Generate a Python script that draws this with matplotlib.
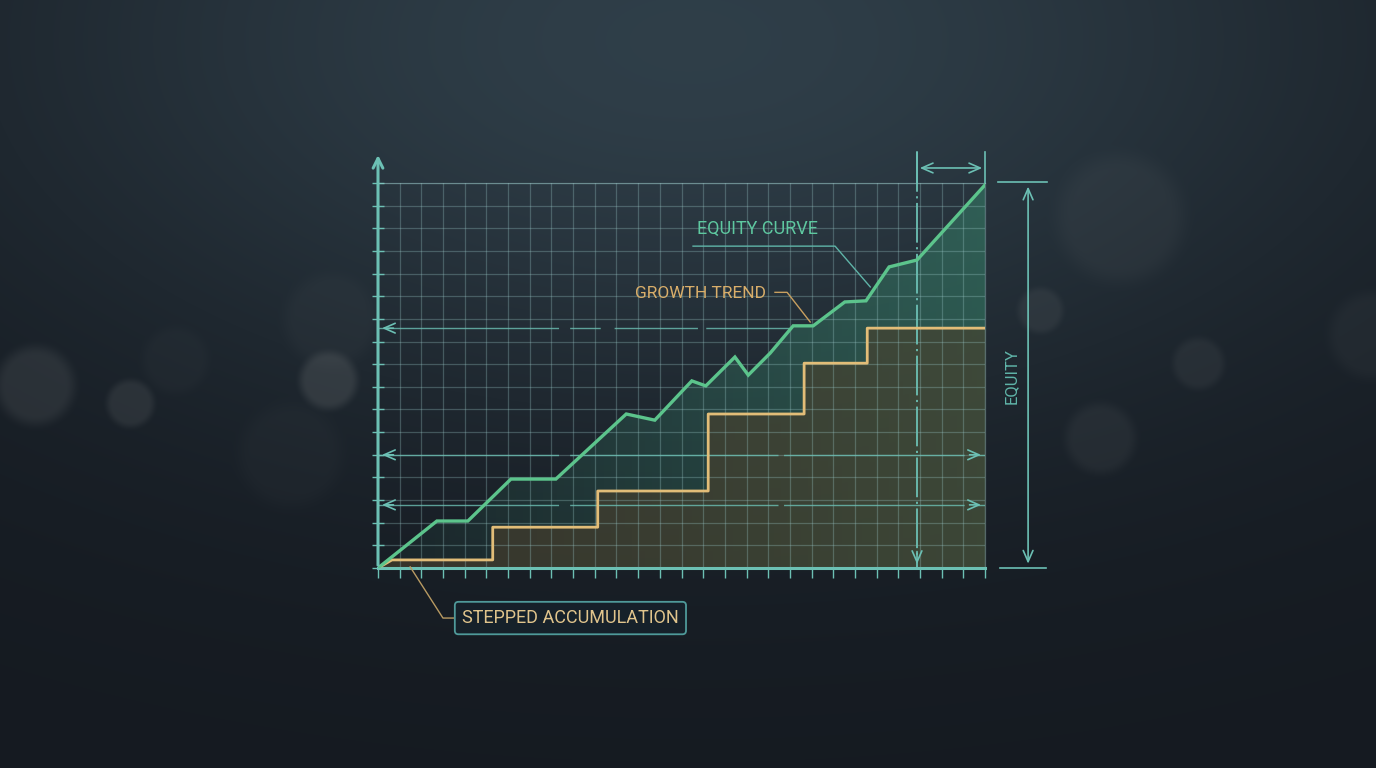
import numpy as np
import matplotlib
matplotlib.use("Agg")
import matplotlib.pyplot as plt
from matplotlib.colors import LinearSegmentedColormap

# --- dati (coordinate in % dell'area del grafico) ---
equity_x = [0, 9.7, 14.8, 21.9, 29.3, 40.9, 45.6, 51.7, 54.0, 58.8, 61.0, 64.6,
            68.4, 71.7, 76.9, 80.4, 84.2, 88.8, 100]
equity_y = [0, 12.2, 12.2, 23.1, 23.1, 40.0, 38.4, 48.6, 47.3, 54.8, 50.1, 55.8,
            62.9, 62.9, 69.1, 69.4, 78.2, 80.0, 99.5]

step_x = [0, 2.3, 18.9, 18.9, 36.2, 36.2, 54.4, 54.4, 70.2, 70.2, 80.6, 80.6, 100]
step_y = [0, 2.1, 2.1, 10.6, 10.6, 20.0, 20.0, 40.0, 40.0, 53.2, 53.2, 62.3, 62.3]

marker_x = 88.8          # linea tratteggiata verticale
guide_levels = [62.3, 29.4, 16.4]

TEAL = "#6cc0b4"
GREEN = "#5cc48c"
GOLD = "#e2bd78"
W, H = 1376, 768

fig = plt.figure(figsize=(W / 100, H / 100), dpi=100)

# --- sfondo sfumato con bokeh ---
bg = fig.add_axes([0, 0, 1, 1])
yy, xx = np.mgrid[0:H, 0:W]
dark = np.array([0.082, 0.102, 0.128])
light = np.array([0.185, 0.245, 0.285])
glow = np.exp(-(((xx - 688) / 720.0) ** 2 + ((yy - 40) / 380.0) ** 2))
img = dark + (light - dark) * glow[..., None]
bokeh = [(35, 385, 38, 0.22), (130, 403, 23, 0.22), (328, 380, 28, 0.30),
         (330, 320, 45, 0.08), (175, 360, 32, 0.06), (290, 455, 50, 0.06),
         (1120, 218, 62, 0.12), (1040, 310, 22, 0.18), (1198, 363, 25, 0.15),
         (1100, 438, 34, 0.14), (1372, 335, 42, 0.10)]
bcol = np.array([0.40, 0.42, 0.43])
for cx, cy, r, a in bokeh:
    d = np.sqrt((xx - cx) ** 2 + (yy - cy) ** 2)
    m = np.clip((r - d) / (r * 0.45) + 0.5, 0, 1)
    m = m * m * (3 - 2 * m) * a
    img = img * (1 - m[..., None]) + bcol * m[..., None]
bg.imshow(np.clip(img, 0, 1), extent=[0, W, H, 0], aspect="auto")
bg.set_axis_off()

# --- area del grafico ---
ax = fig.add_axes([378 / W, 1 - 568 / H, 607 / W, 385 / H])
ax.set_facecolor("none")
ax.set_xlim(0, 100)
ax.set_ylim(0, 100)

ax.set_xticks(np.linspace(0, 100, 29))
ax.set_yticks(np.linspace(0, 100, 18))
ax.set_xticklabels([])
ax.set_yticklabels([])
ax.grid(color="#9ccaca", alpha=0.30, linewidth=0.9)
ax.tick_params(axis="y", direction="inout", length=8, width=1.0, color=TEAL)
ax.tick_params(axis="x", direction="out", length=7, width=1.0, color=TEAL)
for s in ["top", "right"]:
    ax.spines[s].set_color("#9ccaca")
    ax.spines[s].set_alpha(0.4)
    ax.spines[s].set_linewidth(0.9)
ax.spines["left"].set_visible(False)
ax.spines["bottom"].set_color(TEAL)
ax.spines["bottom"].set_linewidth(2.2)

# riempimenti
poly = ax.fill_between(equity_x, 0, equity_y, color="none", linewidth=0)
grad = np.linspace(0.0, 1.0, 256)[None, :]
gcmap = LinearSegmentedColormap.from_list(
    "g", [(0.24, 0.60, 0.47, 0.05), (0.24, 0.62, 0.48, 0.40)])
im = ax.imshow(grad, extent=[0, 100, 0, 100], aspect="auto", cmap=gcmap,
               zorder=1, interpolation="bicubic")
im.set_clip_path(poly.get_paths()[0], transform=ax.transData)
ax.fill_between(step_x, 0, step_y, color="#4a3f2c", alpha=0.6, linewidth=0, zorder=1.5)

ax.plot(equity_x, equity_y, color=GREEN, linewidth=2.4, zorder=4,
        solid_joinstyle="miter")
ax.plot(step_x, step_y, color=GOLD, linewidth=2.0, zorder=3.5)

# asse verticale con freccia
ax.annotate("", xy=(0, 108), xytext=(0, 0),
            arrowprops=dict(arrowstyle="->,head_length=0.7,head_width=0.35",
                            color=TEAL, lw=2.2), annotation_clip=False, zorder=5)

# linee guida orizzontali
head = dict(arrowstyle="->,head_length=0.8,head_width=0.35", color=TEAL, lw=1.2)
ax.plot([0, 68], [guide_levels[0]] * 2, color=TEAL, lw=1.0, alpha=0.8,
        dashes=(130, 8, 22, 10, 60, 6), zorder=2)
ax.annotate("", xy=(0.2, guide_levels[0]), xytext=(3, guide_levels[0]),
            arrowprops=head, zorder=2)
for lev in guide_levels[1:]:
    ax.plot([0, 100], [lev] * 2, color=TEAL, lw=1.0, alpha=0.8,
            dashes=(130, 8, 150, 4), zorder=2)
    ax.annotate("", xy=(0.2, lev), xytext=(3, lev), arrowprops=head, zorder=2)
    ax.annotate("", xy=(99.8, lev), xytext=(97, lev), arrowprops=head, zorder=2)

# linea verticale tratteggiata
ax.plot([marker_x, marker_x], [108, 0], color=TEAL, lw=1.3,
        linestyle=(0, (22, 2.5, 1.2, 2.5)), clip_on=False, zorder=3)
ax.annotate("", xy=(marker_x, 0.3), xytext=(marker_x, 5), arrowprops=head, zorder=3)

# quota in alto
for xv in [marker_x, 100]:
    ax.plot([xv, xv], [100, 108], color=TEAL, lw=1.2, clip_on=False)
ax.annotate("", xy=(marker_x, 103.9), xytext=(100, 103.9),
            arrowprops=dict(arrowstyle="<->,head_length=0.8,head_width=0.35",
                            color=TEAL, lw=1.2), annotation_clip=False)

# quota a destra
ax.plot([102.1, 110.2], [100.2, 100.2], color=TEAL, lw=1.2, clip_on=False)
ax.plot([102.5, 110.0], [0, 0], color=TEAL, lw=1.2, clip_on=False)
ax.annotate("", xy=(107.1, 99.8), xytext=(107.1, 0.4),
            arrowprops=dict(arrowstyle="<->,head_length=0.8,head_width=0.35",
                            color=TEAL, lw=1.2), annotation_clip=False)
ax.text(104.3, 49.9, "EQUITY", rotation=90, color="#5fb4a8", fontsize=12,
        family="Roboto", ha="center", va="center")

# etichette
ax.text(52.6, 88.1, "EQUITY CURVE", color="#5ec8a0", fontsize=13,
        family="Roboto", ha="left", va="center", zorder=6)
ax.plot([51.9, 75.3, 81.1], [83.6, 83.6, 73.0], color="#5fb4a8", lw=1.0, zorder=6)

ax.text(63.9, 71.4, "GROWTH TREND", color="#d9ae6a", fontsize=12.5,
        family="Roboto", ha="right", va="center", zorder=6)
ax.plot([65.4, 67.4, 71.2], [71.6, 71.6, 63.9], color="#c9a060", lw=1.0, zorder=6)

ax.plot([5.3, 10.7, 12.7], [0.3, -13.0, -13.0], color="#b89a62", lw=1.0,
        clip_on=False, zorder=6)
ax.text(31.7, -13.0, "STEPPED ACCUMULATION", color="#e0c48c", fontsize=13,
        family="Roboto", ha="center", va="center", zorder=6,
        bbox=dict(boxstyle="round,pad=0.4,rounding_size=0.2", facecolor="#16212a",
                  edgecolor="#4f9a9a", linewidth=1.3))

fig.savefig("out.png", dpi=100)
